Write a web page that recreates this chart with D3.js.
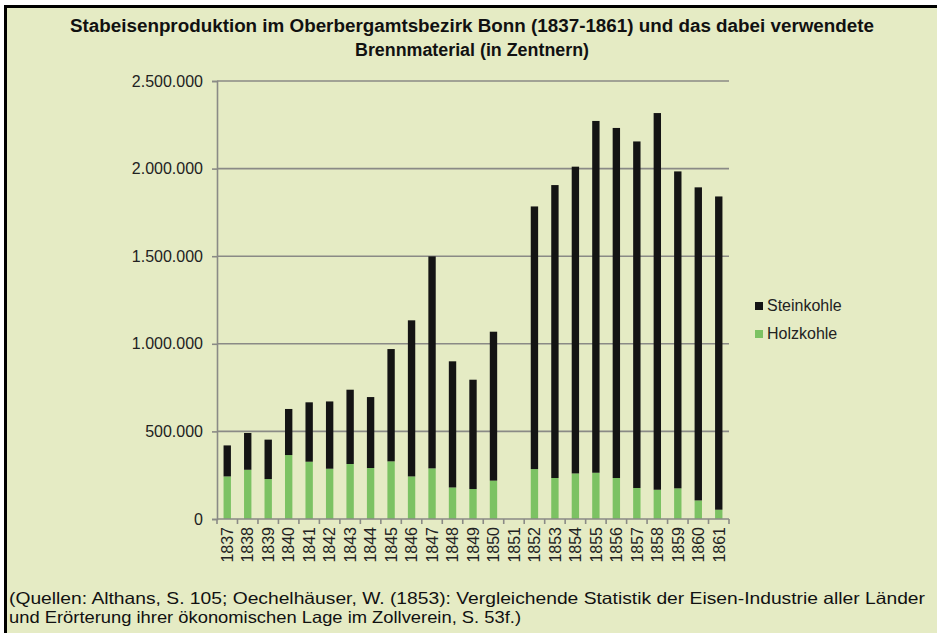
<!DOCTYPE html>
<html>
<head>
<meta charset="utf-8">
<script src="https://cdn.jsdelivr.net/npm/d3@7/dist/d3.min.js"></script>
<style>
  body { margin: 0; background: #fff; }
  svg { display: block; font-family: "Liberation Sans", Arial, sans-serif; }
</style>
</head>
<body>
<div id="chart"></div>
<script>
// years on the x axis
var years = ["1837", "1838", "1839", "1840", "1841", "1842", "1843", "1844", "1845", "1846",
    "1847", "1848", "1849", "1850", "1851", "1852", "1853", "1854", "1855", "1856",
    "1857", "1858", "1859", "1860", "1861"];

// Holzkohle (lower, green) in Zentnern
var holzkohle = [243000, 281000, 228000, 365000, 327000, 287000, 314000, 291000, 329000, 243000,
    289000, 180000, 171000, 219000, 0, 285000, 234000, 260000, 264000, 234000,
    177000, 167000, 175000, 106000, 53000];

// Steinkohle (upper, black) in Zentnern
var steinkohle = [177000, 210000, 225000, 263000, 339000, 384000, 424000, 405000, 641000, 891000,
    1210000, 720000, 624000, 850000, 0, 1499000, 1672000, 1751000, 2008000, 1998000,
    1978000, 2150000, 1809000, 1787000, 1788000];

var yTicks = [0, 500000, 1000000, 1500000, 2000000, 2500000];

var seriesNames = ["Holzkohle", "Steinkohle"];
var seriesColors = { "Holzkohle": "#7cc263", "Steinkohle": "#141414" };

var titleLines = ["Stabeisenproduktion im Oberbergamtsbezirk Bonn (1837-1861) und das dabei verwendete",
    "Brennmaterial (in Zentnern)"];
var sourceLines = ["(Quellen: Althans, S. 105; Oechelhäuser, W. (1853): Vergleichende Statistik der Eisen-Industrie aller Länder",
    "und Erörterung ihrer ökonomischen Lage im Zollverein, S. 53f.)"];

// layout
var W = 937, H = 633;
var plot = { left: 217, right: 729, top: 81, bottom: 519 };

var de = d3.formatLocale({ decimal: ",", thousands: ".", grouping: [3], currency: ["", " €"] });
var fmt = de.format(",.0f");

var svg = d3.select("#chart").append("svg")
    .attr("width", W)
    .attr("height", H);

// panel background + black frame on top and left
svg.append("rect")
    .attr("x", 4).attr("y", 5)
    .attr("width", W - 4).attr("height", H - 5)
    .attr("fill", "#e5ebc4");
svg.append("rect").attr("x", 4).attr("y", 5).attr("width", W - 4).attr("height", 3).attr("fill", "#000");
svg.append("rect").attr("x", 4).attr("y", 5).attr("width", 3).attr("height", H - 5).attr("fill", "#000");

// title
var titleLen = [804, 234];
svg.selectAll(".title")
    .data(titleLines)
    .enter().append("text")
    .attr("class", "title")
    .attr("x", 472)
    .attr("y", function (d, i) { return 32 + i * 24; })
    .attr("text-anchor", "middle")
    .attr("font-weight", "bold")
    .attr("font-size", 17.5)
    .attr("fill", "#111")
    .attr("textLength", function (d, i) { return titleLen[i]; })
    .attr("lengthAdjust", "spacingAndGlyphs")
    .text(function (d) { return d; });

// scales
var x = d3.scaleBand()
    .domain(years)
    .range([plot.left, plot.right])
    .paddingInner(0.64)
    .paddingOuter(0.32);
var xEdge = d3.scaleBand()
    .domain(years)
    .range([plot.left, plot.right])
    .padding(0);
var y = d3.scaleLinear()
    .domain([0, 2500000])
    .range([plot.bottom, plot.top]);

// gridlines
svg.append("g")
    .selectAll("line")
    .data(yTicks.slice(1))
    .enter().append("line")
    .attr("x1", plot.left).attr("x2", plot.right)
    .attr("y1", function (d) { return y(d); })
    .attr("y2", function (d) { return y(d); })
    .attr("stroke", "#8a8a86")
    .attr("stroke-width", 1.6);

// y axis
var yAxis = svg.append("g")
    .attr("transform", "translate(" + plot.left + ",0)")
    .call(d3.axisLeft(y).tickValues(yTicks).tickFormat(fmt).tickSize(5).tickPadding(9));
yAxis.select(".domain").attr("stroke", "#8a8a86").attr("stroke-width", 1.6);
yAxis.selectAll(".tick line").attr("stroke", "#8a8a86").attr("stroke-width", 1.6);
yAxis.selectAll("text")
    .attr("font-size", 16)
    .attr("font-family", "Liberation Sans, Arial, sans-serif")
    .attr("fill", "#222");

// stacked bars
var table = years.map(function (yr, i) {
    return { year: yr, Holzkohle: holzkohle[i], Steinkohle: steinkohle[i] };
});
var stacked = d3.stack().keys(seriesNames)(table);

svg.append("g")
    .selectAll("g")
    .data(stacked)
    .enter().append("g")
    .attr("fill", function (d) { return seriesColors[d.key]; })
    .selectAll("rect")
    .data(function (d) { return d; })
    .enter().append("rect")
    .attr("x", function (d) { return x(d.data.year); })
    .attr("width", x.bandwidth())
    .attr("y", function (d) { return y(d[1]); })
    .attr("height", function (d) { return y(d[0]) - y(d[1]); });

// x axis line with ticks between the categories
var xAxis = svg.append("g");
xAxis.append("line")
    .attr("x1", plot.left).attr("x2", plot.right)
    .attr("y1", y(0)).attr("y2", y(0))
    .attr("stroke", "#8a8a86")
    .attr("stroke-width", 1.6);
xAxis.selectAll(".xt")
    .data(years.concat(["end"]))
    .enter().append("line")
    .attr("class", "xt")
    .attr("x1", function (d) { return d === "end" ? plot.right : xEdge(d); })
    .attr("x2", function (d) { return d === "end" ? plot.right : xEdge(d); })
    .attr("y1", y(0))
    .attr("y2", y(0) + 5)
    .attr("stroke", "#8a8a86")
    .attr("stroke-width", 1.6);
xAxis.selectAll(".xl")
    .data(years)
    .enter().append("text")
    .attr("class", "xl")
    .attr("transform", function (d) {
        return "translate(" + (xEdge(d) + xEdge.bandwidth() / 2) + "," + (y(0) + 8) + ") rotate(-90)";
    })
    .attr("dy", "0.36em")
    .attr("text-anchor", "end")
    .attr("font-size", 16)
    .attr("fill", "#222")
    .text(function (d) { return d; });

// legend
var legendItems = ["Steinkohle", "Holzkohle"];
var legend = svg.append("g")
    .selectAll("g")
    .data(legendItems)
    .enter().append("g")
    .attr("transform", function (d, i) { return "translate(755," + (302 + i * 28) + ")"; });
legend.append("rect")
    .attr("width", 8).attr("height", 8)
    .attr("fill", function (d) { return seriesColors[d]; });
legend.append("text")
    .attr("x", 12)
    .attr("y", 9)
    .attr("font-size", 16)
    .attr("fill", "#222")
    .text(function (d) { return d; });

// sources
var sourceLen = [916, 512];
svg.selectAll(".src")
    .data(sourceLines)
    .enter().append("text")
    .attr("class", "src")
    .attr("x", 9)
    .attr("y", function (d, i) { return 604 + i * 19; })
    .attr("font-size", 16.5)
    .attr("fill", "#111")
    .attr("textLength", function (d, i) { return sourceLen[i]; })
    .attr("lengthAdjust", "spacingAndGlyphs")
    .text(function (d) { return d; });
</script>
</body>
</html>
